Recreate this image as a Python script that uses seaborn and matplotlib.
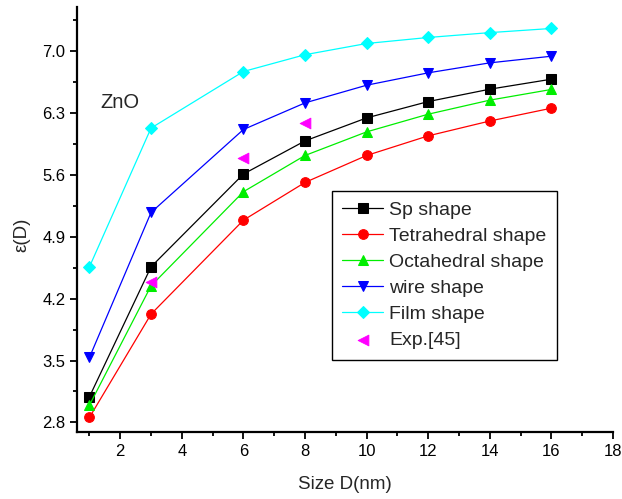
import matplotlib
matplotlib.use("Agg")
import matplotlib.pyplot as plt
import seaborn as sns
import numpy as np
import pandas as pd
from matplotlib.ticker import MultipleLocator

sizes = [1, 3, 6, 8, 10, 12, 14, 16]
sp_shape = [3.09, 4.56, 5.61, 5.985, 6.245, 6.43, 6.57, 6.683]
tetra_shape = [2.856, 4.025, 5.088, 5.515, 5.82, 6.042, 6.21, 6.355]
octa_shape = [2.995, 4.345, 5.41, 5.82, 6.087, 6.287, 6.446, 6.567]
wire_shape = [3.535, 5.175, 6.114, 6.415, 6.615, 6.755, 6.868, 6.943]
film_shape = [4.56, 6.13, 6.77, 6.96, 7.087, 7.155, 7.21, 7.257]
exp_x = [3, 6, 8]
exp_y = [4.39, 5.797, 6.193]

series = [
    ("Sp shape", sp_shape, "black", "s"),
    ("Tetrahedral shape", tetra_shape, "red", "o"),
    ("Octahedral shape", octa_shape, "#00ee00", "^"),
    ("wire shape", wire_shape, "blue", "v"),
    ("Film shape", film_shape, "cyan", "D"),
]

sns.set_style("ticks")
plt.rcParams['font.family'] = ['Liberation Sans', 'DejaVu Sans']

fig = plt.figure(figsize=(6.22, 4.99), dpi=100)
ax = fig.add_axes([0.124, 0.134, 0.8615, 0.852])

for name, vals, col, mk in series:
    ms = 6 if mk == "D" else 7
    sns.lineplot(x=sizes, y=vals, ax=ax, color=col, marker=mk, markersize=ms,
                 markeredgecolor=col, linewidth=0.9, label=name)
sns.scatterplot(x=exp_x, y=exp_y, ax=ax, color="magenta", marker="<", s=60,
                edgecolor="magenta", label="Exp.[45]", zorder=5)

ax.set_xlim(0.6, 18)
ax.set_ylim(2.69, 7.5)
ax.set_xticks([2, 4, 6, 8, 10, 12, 14, 16, 18])
ax.set_xticklabels(["2", "4", "6", "8", "10", "12", "14", "16", "18"])
ax.xaxis.set_minor_locator(MultipleLocator(1))
ax.set_yticks([2.8, 3.5, 4.2, 4.9, 5.6, 6.3, 7.0])
ax.set_yticklabels(["2.8", "3.5", "4.2", "4.9", "5.6", "6.3", "7.0"])
ax.yaxis.set_minor_locator(MultipleLocator(0.35))
ax.tick_params(axis='both', which='major', direction='out', length=5, width=1.3,
               labelsize=12, color='black', labelcolor='black')
ax.tick_params(axis='both', which='minor', direction='out', length=3, width=1.3,
               color='black')
for s in ['left', 'bottom']:
    ax.spines[s].set_linewidth(1.6)
    ax.spines[s].set_color('black')
sns.despine(ax=ax)

ax.set_xlabel("Size D(nm)", fontsize=13.5)
ax.set_ylabel("ε(D)", fontsize=13.5)
ax.xaxis.set_label_coords(0.5, -0.104)
ax.yaxis.set_label_coords(-0.088, 0.464)
ax.text(1.36, 6.36, "ZnO", fontsize=14.5)

leg = ax.legend(loc='upper left', bbox_to_anchor=(0.475, 0.568), fontsize=14,
                frameon=True, fancybox=False, edgecolor='black', framealpha=1,
                handlelength=2.1, borderpad=0.55, labelspacing=0.43,
                handletextpad=0.3, borderaxespad=0)
leg.get_frame().set_linewidth(1.0)

fig.savefig("out.png", dpi=100)
